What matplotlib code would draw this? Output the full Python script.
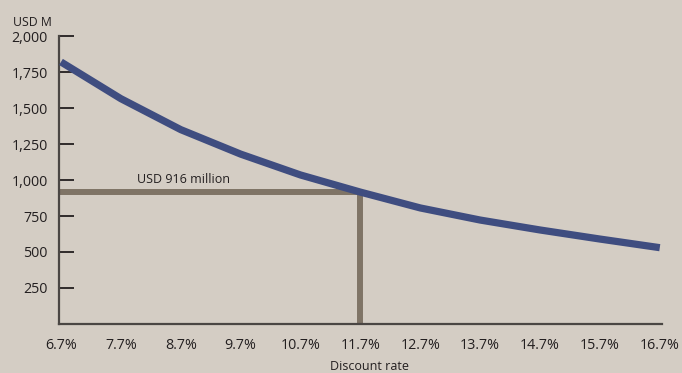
import matplotlib as mpl
import matplotlib.pyplot as plt
from matplotlib.ticker import FuncFormatter

mpl.rc('font', family=['Open Sans', 'DejaVu Sans'])

# Value by discount rate (USD M)
rates = [6.7, 7.7, 8.7, 9.7, 10.7, 11.7, 12.7, 13.7, 14.7, 15.7, 16.7]
values = [1820, 1565, 1350, 1180, 1035, 916, 806, 722, 653, 590, 530]
x_labels = ["6.7%", "7.7%", "8.7%", "9.7%", "10.7%", "11.7%", "12.7%",
            "13.7%", "14.7%", "15.7%", "16.7%"]
y_ticks = [250, 500, 750, 1000, 1250, 1500, 1750, 2000]

# Highlighted point
base_rate = 11.7
base_value = 916

bg = '#d4cdc4'
ink = '#231f20'
curve_color = '#3f4d80'
marker_color = '#7f7466'

x_min, x_max = 6.667, 16.735

fig = plt.figure(figsize=(6.82, 3.73), dpi=100, facecolor=bg)
ax = fig.add_axes([0.0865, 0.1314, 0.884, 0.772])
ax.set_facecolor(bg)

ax.plot([x_min, base_rate], [base_value, base_value], color=marker_color,
        lw=4.3, solid_capstyle='butt', zorder=2)
ax.plot([base_rate, base_rate], [0, base_value], color=marker_color,
        lw=4.3, solid_capstyle='projecting', zorder=2)
ax.plot(rates, values, color=curve_color, lw=5.2, solid_capstyle='butt',
        solid_joinstyle='round', zorder=3)

ax.text(8.75, base_value + 40, "USD 916 million", fontsize=9, color=ink,
        ha='center', va='bottom')

ax.set_xlim(x_min, x_max)
ax.set_ylim(0, 2000)
ax.set_xticks(rates)
ax.set_xticklabels(x_labels)
ax.set_yticks(y_ticks)
ax.yaxis.set_major_formatter(FuncFormatter(lambda v, p: f"{int(v):,}"))

ax.tick_params(axis='y', direction='in', length=11, width=1.3, color=ink,
               labelsize=10.3, labelcolor=ink, pad=8)
ax.tick_params(axis='x', length=0, labelsize=10.3, labelcolor=ink, pad=10)

for side in ['top', 'right']:
    ax.spines[side].set_visible(False)
for side in ['left', 'bottom']:
    ax.spines[side].set_color('#4a4643')
    ax.spines[side].set_linewidth(1.6)

fig.text(13 / 682, 1 - 22 / 373, "USD M", fontsize=8.8, color=ink,
         ha='left', va='center')
fig.text(370 / 682, 1 - 366 / 373, "Discount rate", fontsize=9, color=ink,
         ha='center', va='center')

fig.savefig('out.png', dpi=100, facecolor=bg)
